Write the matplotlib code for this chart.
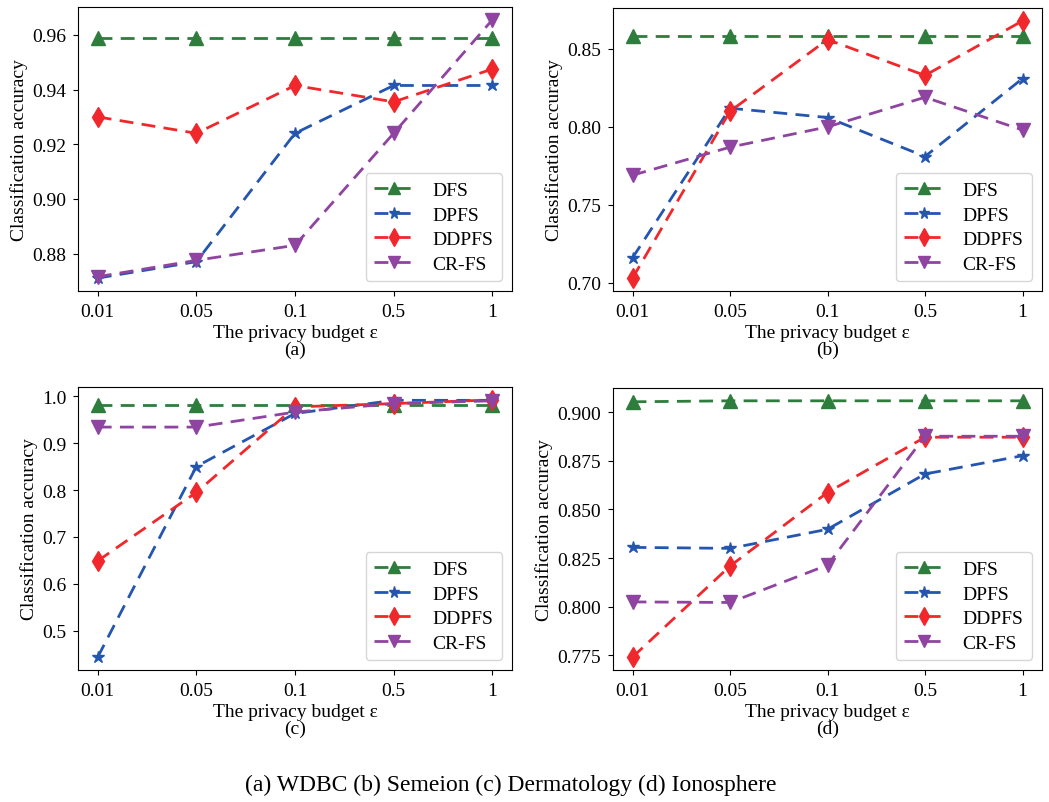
import matplotlib
matplotlib.use('Agg')
import matplotlib.pyplot as plt

plt.rcParams['font.family'] = ['Liberation Serif', 'DejaVu Serif']

budgets = ['0.01', '0.05', '0.1', '0.5', '1']
methods = ['DFS', 'DPFS', 'DDPFS', 'CR-FS']

# (a) WDBC
wdbc_dfs = [0.959, 0.959, 0.959, 0.959, 0.959]
wdbc_dpfs = [0.871, 0.877, 0.924, 0.9415, 0.9415]
wdbc_ddpfs = [0.930, 0.924, 0.9415, 0.9355, 0.9475]
wdbc_crfs = [0.8715, 0.8775, 0.883, 0.924, 0.9655]

# (b) Semeion
sem_dfs = [0.858, 0.858, 0.858, 0.858, 0.858]
sem_dpfs = [0.716, 0.812, 0.806, 0.781, 0.831]
sem_ddpfs = [0.703, 0.810, 0.856, 0.833, 0.868]
sem_crfs = [0.769, 0.787, 0.800, 0.819, 0.798]

# (c) Dermatology
derm_dfs = [0.982, 0.982, 0.982, 0.982, 0.982]
derm_dpfs = [0.444, 0.850, 0.963, 0.991, 0.991]
derm_ddpfs = [0.649, 0.795, 0.977, 0.984, 0.992]
derm_crfs = [0.934, 0.934, 0.966, 0.984, 0.990]

# (d) Ionosphere
iono_dfs = [0.9053, 0.9058, 0.9058, 0.9058, 0.9058]
iono_dpfs = [0.8305, 0.8300, 0.8398, 0.8682, 0.8776]
iono_ddpfs = [0.7741, 0.8209, 0.8587, 0.8871, 0.8871]
iono_crfs = [0.8025, 0.8022, 0.8214, 0.8876, 0.8876]

panels = [
    ('(a)', [wdbc_dfs, wdbc_dpfs, wdbc_ddpfs, wdbc_crfs], None),
    ('(b)', [sem_dfs, sem_dpfs, sem_ddpfs, sem_crfs], None),
    ('(c)', [derm_dfs, derm_dpfs, derm_ddpfs, derm_crfs], None),
    ('(d)', [iono_dfs, iono_dpfs, iono_ddpfs, iono_crfs], '%.3f'),
]

colors = ['#2e7d3c', '#2456b0', '#f0282c', '#8e44a0']
markers = ['^', '*', 'd', 'v']
msizes = [10, 9, 10, 10]

fig = plt.figure(figsize=(10.49, 8.03), dpi=100)
boxes = [
    [78 / 1049, 1 - 292 / 803, 434 / 1049, 284 / 803],
    [613 / 1049, 1 - 292 / 803, 429 / 1049, 283 / 803],
    [78 / 1049, 1 - 671 / 803, 434 / 1049, 283 / 803],
    [613 / 1049, 1 - 671 / 803, 429 / 1049, 282 / 803],
]

x = list(range(len(budgets)))
for box, (tag, series, fmt) in zip(boxes, panels):
    ax = fig.add_axes(box)
    for vals, name, c, m, ms in zip(series, methods, colors, markers, msizes):
        ax.plot(x, vals, linestyle='--', dashes=(5, 3), color=c, marker=m,
                markersize=ms, linewidth=2, label=name)
    ax.set_xticks(x)
    ax.set_xticklabels(budgets)
    ax.tick_params(labelsize=14, pad=5)
    if fmt:
        ax.yaxis.set_major_formatter(matplotlib.ticker.FormatStrFormatter(fmt))
    ax.set_ylabel('Classification accuracy', fontsize=14, labelpad=3)
    ax.set_xlabel('The privacy budget ε\n' + tag, fontsize=14, linespacing=0.95, labelpad=3)
    leg = ax.legend(loc='lower right', fontsize=14, handlelength=2.0, handletextpad=1.0,
                    borderpad=0.45, labelspacing=0.35, markerscale=0.9)
    leg.get_frame().set_edgecolor('#cccccc')

fig.text(0.487, 1 - 785 / 803, '(a) WDBC (b) Semeion (c) Dermatology (d) Ionosphere',
         ha='center', va='center', fontsize=17)

fig.savefig('out.png', dpi=100)
